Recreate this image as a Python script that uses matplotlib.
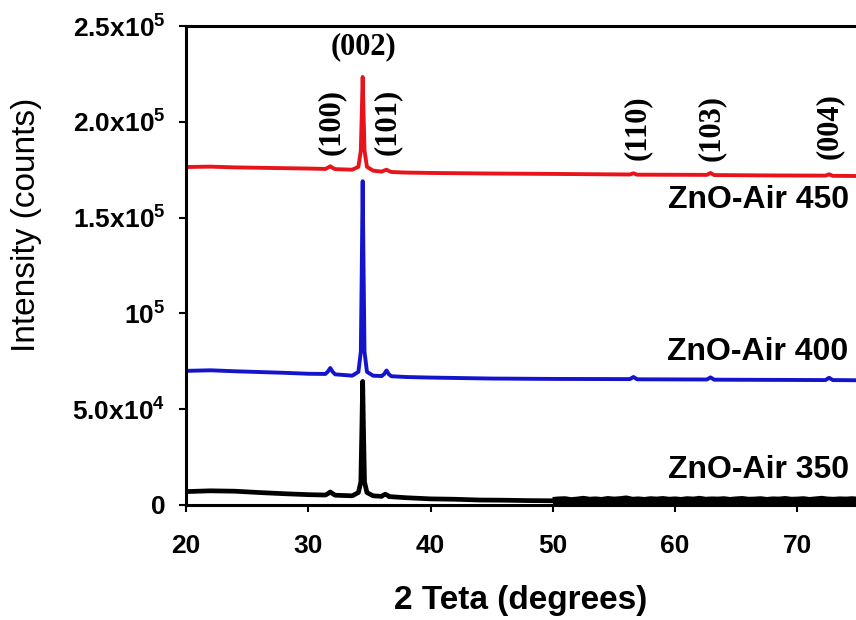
import numpy as np
import matplotlib
matplotlib.use("Agg")
import matplotlib.pyplot as plt
from matplotlib.ticker import FixedLocator, FixedFormatter

plt.rcParams["font.family"] = ["Liberation Sans", "DejaVu Sans"]
plt.rcParams["mathtext.fontset"] = "custom"
plt.rcParams["mathtext.rm"] = "Liberation Sans:bold"
plt.rcParams["mathtext.bf"] = "Liberation Sans:bold"
plt.rcParams["mathtext.it"] = "Liberation Sans:bold"

# ---- XRD patterns (2-theta in degrees, intensity in thousands of counts) ----
two_theta_350 = [20, 22, 24, 26, 28, 30, 31.4, 31.6, 31.8, 32.0, 32.2, 33.6,
                 34.1, 34.3, 34.38, 34.45, 34.52, 34.6, 34.8, 35.3, 36.0, 36.1,
                 36.3, 36.5, 36.6, 38, 40, 42, 44, 46, 48, 50]
intensity_350 = [7.0, 7.4, 7.2, 6.5, 5.9, 5.4, 5.2, 5.9, 6.8, 5.9, 5.1, 4.8,
                 6.5, 12, 38, 64.5, 38, 12, 6.5, 4.8, 4.5, 5.0, 5.6, 5.0, 4.4,
                 3.8, 3.2, 3.0, 2.6, 2.5, 2.3, 2.2]
# noisy high-angle region of the 350 sample, 50 to 75 degrees in 0.5 steps
tail_350 = [2.0, 2.3, 2.4, 1.9, 2.2, 2.6,
            2.1, 2.3, 2.0, 2.5, 2.2, 2.4, 2.8, 2.1, 2.3, 2.0,
            2.4, 2.2, 2.5, 2.1, 2.3, 2.0, 2.4, 2.2, 2.6, 2.1,
            2.3, 2.2, 2.4, 2.0, 2.3, 2.5, 2.1, 2.2, 2.4, 2.0,
            2.3, 2.2, 2.5, 2.1, 2.2, 2.4, 2.0, 2.3, 2.6, 2.2,
            2.1, 2.3, 2.2, 2.4, 2.1]

two_theta_hi = [20, 22, 24, 26, 28, 30, 31.4, 31.6, 31.8, 32.0, 32.2, 33.6,
                34.1, 34.3, 34.38, 34.45, 34.52, 34.6, 34.8, 35.3, 36.0, 36.2,
                36.4, 36.6, 36.8, 38, 40, 45, 50,
                56.3, 56.6, 56.9, 62.6, 62.9, 63.2, 68, 72.3, 72.6, 72.9, 75]
intensity_400 = [70.0, 70.3, 69.8, 69.4, 69.0, 68.5, 68.4, 69.6, 71.5, 69.5,
                 68.2, 67.5, 69.5, 80, 125, 169, 125, 80, 69.5, 67.5, 67.3,
                 68.3, 70.2, 68.2, 67.2, 66.8, 66.5, 66.0, 65.8,
                 65.7, 66.8, 65.6, 65.5, 66.6, 65.4, 65.3, 65.2, 66.4, 65.2,
                 65.1]
intensity_450 = [176.4, 176.6, 176.2, 176.0, 175.8, 175.6, 175.4, 176.0, 176.8,
                 175.9, 175.3, 175.0, 176.5, 185, 205, 223.4, 205, 185, 176.5,
                 174.5, 174.0, 174.5, 175.0, 174.3, 173.8, 173.5, 173.3, 173.0,
                 172.8, 172.5, 173.1, 172.4, 172.3, 173.3, 172.2, 172.0, 171.9,
                 172.6, 171.8, 171.7]

sample_labels = ["ZnO-Air 450", "ZnO-Air 400", "ZnO-Air 350"]
sample_label_y = [159, 80, 18.5]

reflections = ["(100)", "(101)", "(110)", "(103)", "(004)"]
reflection_x = [31.9, 36.5, 56.9, 63.0, 72.6]
reflection_y = [200, 200, 197, 197, 198]

y_ticks = [0, 5e4, 1e5, 1.5e5, 2e5, 2.5e5]
y_ticklabels = ["0", r"5.0x$10^{4}$", r"$10^{5}$", r"1.5x$10^{5}$",
                r"2.0x$10^{5}$", r"2.5x$10^{5}$"]
x_ticks = [20, 30, 40, 50, 60, 70]

# ---- figure ----
fig = plt.figure(figsize=(8.56, 6.20), dpi=100)
ax = fig.add_axes([186 / 856, 1 - 505 / 620, 1 - 186 / 856, 479 / 620])

k = 1e3
ax.plot(two_theta_350, np.array(intensity_350) * k, color="black", lw=3.4,
        solid_joinstyle="round", solid_capstyle="round")
# the high-angle part is very noisy, drawn as a thick band
ax.plot(np.linspace(50, 75, len(tail_350)), np.array(tail_350) * k,
        color="black", lw=6.0, solid_joinstyle="round", solid_capstyle="butt")
ax.plot(two_theta_hi, np.array(intensity_400) * k, color="#1414cc", lw=2.8,
        solid_joinstyle="round")
ax.plot(two_theta_hi, np.array(intensity_450) * k, color="#e8141c", lw=2.8,
        solid_joinstyle="round")

ax.set_xlim(20, 74.8)
ax.set_ylim(0, 2.5e5)

for s in ["left", "bottom", "top"]:
    ax.spines[s].set_linewidth(2.2)
ax.spines["right"].set_visible(False)

ax.xaxis.set_major_locator(FixedLocator(x_ticks))
ax.yaxis.set_major_locator(FixedLocator(y_ticks))
ax.yaxis.set_major_formatter(FixedFormatter(y_ticklabels))
ax.tick_params(axis="both", direction="out", length=5, width=1.5,
               labelsize=19)
ax.tick_params(axis="x", pad=16)
ax.tick_params(axis="y", pad=10)
for lab in ax.get_xticklabels() + ax.get_yticklabels():
    lab.set_fontweight("bold")

fig.text(521 / 856, 1 - 600 / 620, "2 Teta (degrees)", ha="center",
         va="center", fontsize=24, fontweight="bold")
fig.text(27 / 856, 1 - 225 / 620, "Intensity (counts)", rotation=90,
         ha="center", va="center", fontsize=24)

for lab, ly in zip(sample_labels, sample_label_y):
    ax.text(74.2, ly * k, lab, ha="right", va="center", fontsize=23,
            fontweight="bold")

serif = ["Liberation Serif", "DejaVu Serif"]
ax.text(34.55, 239e3, "(002)", ha="center", va="center", fontsize=22,
        fontweight="bold", family=serif)
for lab, rx, ry in zip(reflections, reflection_x, reflection_y):
    ax.text(rx, ry * k, lab, rotation=90, ha="center", va="center",
            fontsize=22, fontweight="bold", family=serif)

fig.savefig("out.png", dpi=100)
